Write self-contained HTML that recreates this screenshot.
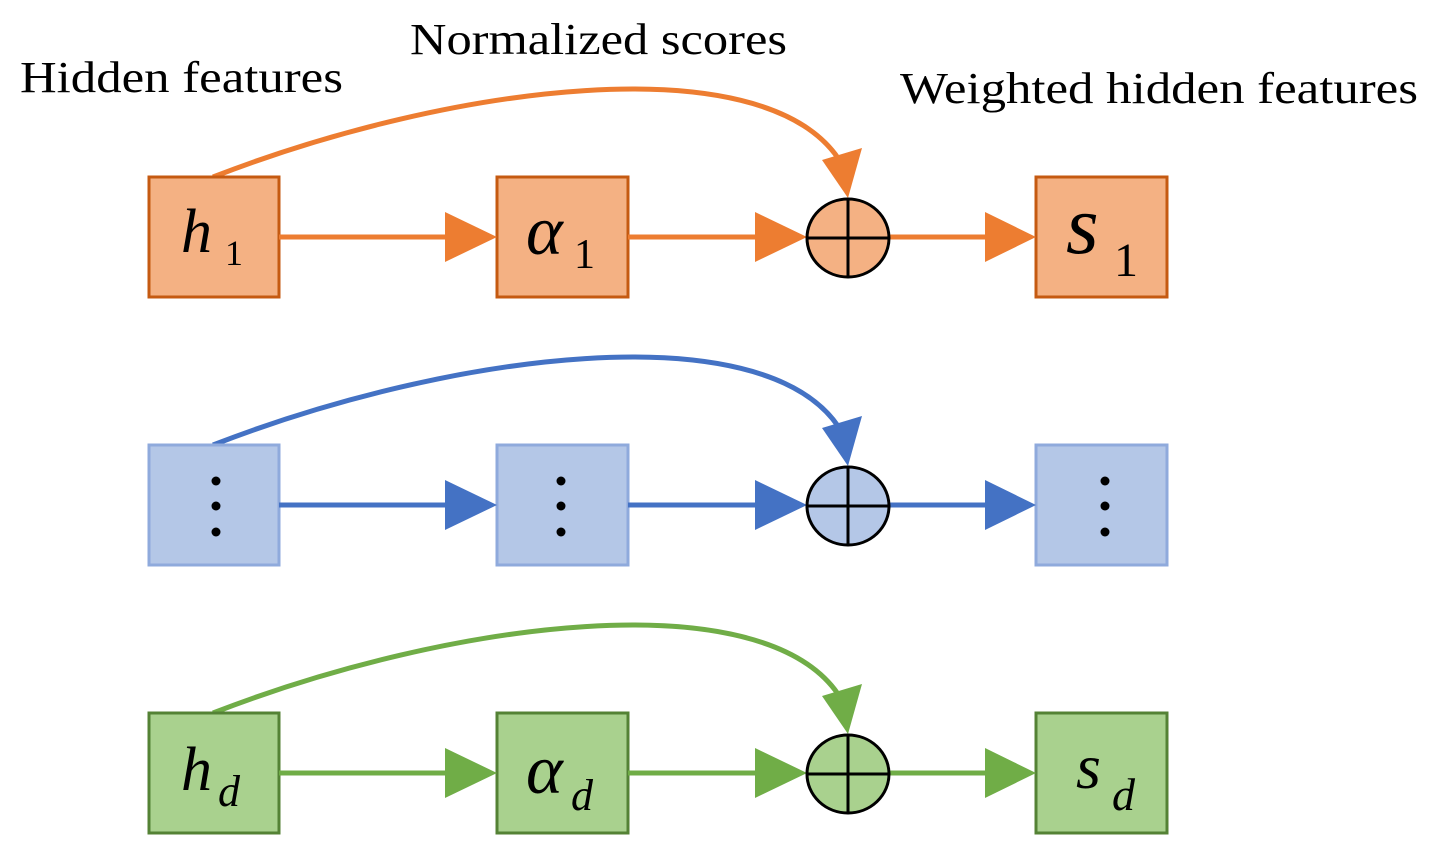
<!DOCTYPE html>
<html><head><meta charset="utf-8"><style>body{margin:0;background:#fff}text{font-family:"Liberation Serif",serif}</style></head><body>
<svg width="1443" height="856" xmlns="http://www.w3.org/2000/svg">
<text x="20" y="92" font-size="44" textLength="323" lengthAdjust="spacingAndGlyphs">Hidden features</text>
<text x="410" y="54" font-size="44" textLength="377" lengthAdjust="spacingAndGlyphs">Normalized scores</text>
<text x="900" y="103" font-size="44" textLength="518" lengthAdjust="spacingAndGlyphs">Weighted hidden features</text>
<g>
<path d="M213,177 C450,85 760,45 838,158" fill="none" stroke="#ED7D31" stroke-width="5"/>
<polygon points="822,160 862,148 848,198" fill="#ED7D31"/>
<rect x="149" y="177" width="130" height="120" fill="#F4B183" stroke="#C55A11" stroke-width="3"/>
<rect x="497" y="177" width="131" height="120" fill="#F4B183" stroke="#C55A11" stroke-width="3"/>
<rect x="1036" y="177" width="131" height="120" fill="#F4B183" stroke="#C55A11" stroke-width="3"/>
<line x1="279" y1="237" x2="450" y2="237" stroke="#ED7D31" stroke-width="5"/>
<polygon points="445,212 497,237 445,262" fill="#ED7D31"/>
<line x1="628" y1="237" x2="760" y2="237" stroke="#ED7D31" stroke-width="5"/>
<polygon points="755,212 807,237 755,262" fill="#ED7D31"/>
<line x1="889" y1="237" x2="990" y2="237" stroke="#ED7D31" stroke-width="5"/>
<polygon points="985,212 1036,237 985,262" fill="#ED7D31"/>
<ellipse cx="848" cy="238" rx="41" ry="39" fill="#F4B183" stroke="#000" stroke-width="3"/>
<line x1="807" y1="238" x2="889" y2="238" stroke="#000" stroke-width="3"/>
<line x1="848" y1="199" x2="848" y2="277" stroke="#000" stroke-width="3"/>
<text x="181" y="252" font-size="62" font-style="italic">h</text><text x="225" y="265" font-size="36">1</text>
<text x="526" y="254" font-size="70" font-style="italic">α</text><text x="574" y="268" font-size="42">1</text>
<text x="1066" y="253" font-size="84" font-style="italic">s</text><text x="1114" y="276" font-size="48">1</text>
</g>
<g transform="translate(0,268)">
<path d="M213,177 C450,85 760,45 838,158" fill="none" stroke="#4472C4" stroke-width="5"/>
<polygon points="822,160 862,148 848,198" fill="#4472C4"/>
<rect x="149" y="177" width="130" height="120" fill="#B4C7E7" stroke="#8FAADC" stroke-width="3"/>
<rect x="497" y="177" width="131" height="120" fill="#B4C7E7" stroke="#8FAADC" stroke-width="3"/>
<rect x="1036" y="177" width="131" height="120" fill="#B4C7E7" stroke="#8FAADC" stroke-width="3"/>
<line x1="279" y1="237" x2="450" y2="237" stroke="#4472C4" stroke-width="5"/>
<polygon points="445,212 497,237 445,262" fill="#4472C4"/>
<line x1="628" y1="237" x2="760" y2="237" stroke="#4472C4" stroke-width="5"/>
<polygon points="755,212 807,237 755,262" fill="#4472C4"/>
<line x1="889" y1="237" x2="990" y2="237" stroke="#4472C4" stroke-width="5"/>
<polygon points="985,212 1036,237 985,262" fill="#4472C4"/>
<ellipse cx="848" cy="238" rx="41" ry="39" fill="#B4C7E7" stroke="#000" stroke-width="3"/>
<line x1="807" y1="238" x2="889" y2="238" stroke="#000" stroke-width="3"/>
<line x1="848" y1="199" x2="848" y2="277" stroke="#000" stroke-width="3"/>
<g fill="#000"><circle cx="216" cy="213" r="4.5"/><circle cx="216" cy="238" r="4.5"/><circle cx="216" cy="264" r="4.5"/>
<circle cx="561" cy="213" r="4.5"/><circle cx="561" cy="238" r="4.5"/><circle cx="561" cy="264" r="4.5"/>
<circle cx="1105" cy="213" r="4.5"/><circle cx="1105" cy="238" r="4.5"/><circle cx="1105" cy="264" r="4.5"/></g>
</g>
<g transform="translate(0,536)">
<path d="M213,177 C450,85 760,45 838,158" fill="none" stroke="#70AD47" stroke-width="5"/>
<polygon points="822,160 862,148 848,198" fill="#70AD47"/>
<rect x="149" y="177" width="130" height="120" fill="#A9D18E" stroke="#548235" stroke-width="3"/>
<rect x="497" y="177" width="131" height="120" fill="#A9D18E" stroke="#548235" stroke-width="3"/>
<rect x="1036" y="177" width="131" height="120" fill="#A9D18E" stroke="#548235" stroke-width="3"/>
<line x1="279" y1="237" x2="450" y2="237" stroke="#70AD47" stroke-width="5"/>
<polygon points="445,212 497,237 445,262" fill="#70AD47"/>
<line x1="628" y1="237" x2="760" y2="237" stroke="#70AD47" stroke-width="5"/>
<polygon points="755,212 807,237 755,262" fill="#70AD47"/>
<line x1="889" y1="237" x2="990" y2="237" stroke="#70AD47" stroke-width="5"/>
<polygon points="985,212 1036,237 985,262" fill="#70AD47"/>
<ellipse cx="848" cy="238" rx="41" ry="39" fill="#A9D18E" stroke="#000" stroke-width="3"/>
<line x1="807" y1="238" x2="889" y2="238" stroke="#000" stroke-width="3"/>
<line x1="848" y1="199" x2="848" y2="277" stroke="#000" stroke-width="3"/>
<text x="181" y="254" font-size="62" font-style="italic">h</text><text x="218" y="270" font-size="44" font-style="italic">d</text>
<text x="526" y="257" font-size="70" font-style="italic">α</text><text x="571" y="274" font-size="44" font-style="italic">d</text>
<text x="1076" y="252" font-size="64" font-style="italic">s</text><text x="1112" y="274" font-size="46" font-style="italic">d</text>
</g>
</svg>
</body></html>
